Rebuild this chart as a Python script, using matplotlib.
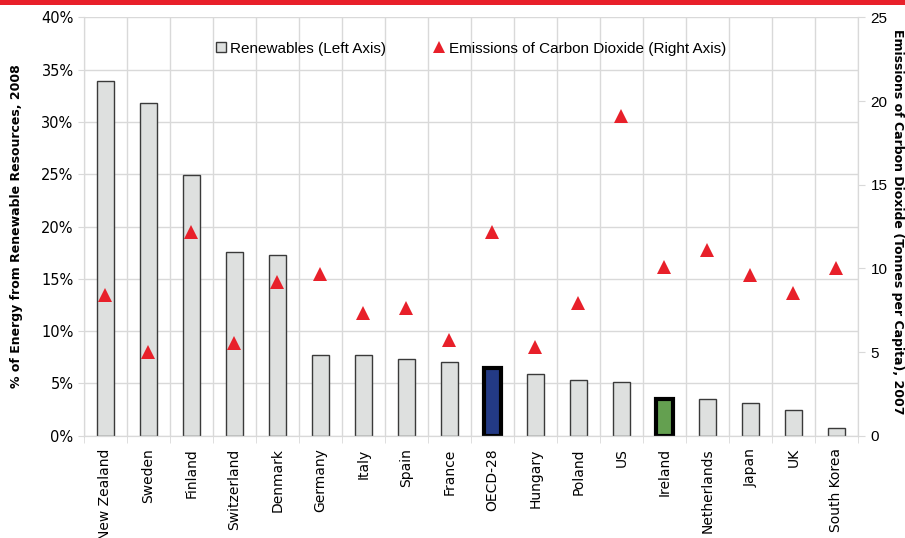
import matplotlib
matplotlib.use('Agg')
import matplotlib.pyplot as plt
from matplotlib.patches import Rectangle
from matplotlib.lines import Line2D
from matplotlib.ticker import FuncFormatter, MultipleLocator
import numpy as np

# Renewables share (%, 2008) and CO2 emissions (tonnes per capita, 2007)
countries = ['New Zealand', 'Sweden', 'Finland', 'Switzerland', 'Denmark', 'Germany',
             'Italy', 'Spain', 'France', 'OECD-28', 'Hungary', 'Poland', 'US',
             'Ireland', 'Netherlands', 'Japan', 'UK', 'South Korea']
renewables = [33.9, 31.8, 24.9, 17.6, 17.3, 7.7,
              7.7, 7.3, 7.05, 6.45, 5.9, 5.35, 5.1,
              3.55, 3.55, 3.1, 2.46, 0.7]
co2 = [8.4, 5.0, 12.15, 5.57, 9.2, 9.66,
       7.33, 7.64, 5.75, 12.2, 5.3, 7.94, 19.08,
       10.09, 11.08, 9.63, 8.55, 10.03]

GRID = '#d9d9d9'
BAR_FILL = '#dee0df'
RED = '#e8202a'
sans = ['Liberation Sans', 'DejaVu Sans']

fig = plt.figure(figsize=(9.05, 5.38), dpi=100)
ax = fig.add_axes([0.0928, 0.190, 0.8552, 0.7776])
ax2 = ax.twinx()

x = np.arange(len(countries))
fills = [BAR_FILL] * len(countries)
edges = ['#3a3a3a'] * len(countries)
widths = [1.0] * len(countries)
highlight = {'OECD-28': '#233a85', 'Ireland': '#64a050'}
for i, name in enumerate(countries):
    if name in highlight:
        fills[i] = highlight[name]
        edges[i] = 'black'
        widths[i] = 3.0

ax.bar(x, renewables, width=0.4, color=fills, edgecolor=edges, linewidth=widths, zorder=2)
ax2.plot(x, co2, linestyle='none', marker='^', markersize=9.5, color=RED,
         markeredgewidth=0, zorder=3)

# left axis
ax.set_xlim(-0.5, len(countries) - 0.5)
ax.set_ylim(0, 40)
ax.yaxis.set_major_locator(MultipleLocator(5))
ax.yaxis.set_major_formatter(FuncFormatter(lambda v, p: f'{int(v)}%'))
ax.set_axisbelow(True)
ax.grid(axis='y', color=GRID, linewidth=1)
ax.set_xticks(x)
ax.set_xticklabels(countries, rotation=90, fontsize=10)
ax.set_xticks(np.arange(-0.5, len(countries)), minor=True)
ax.grid(axis='x', which='minor', color=GRID, linewidth=1)
ax.tick_params(axis='x', which='major', length=0, pad=9)
ax.tick_params(axis='x', which='minor', length=5, color=GRID)
ax.tick_params(axis='y', length=4, color=GRID, labelsize=10.5)
ax.set_ylabel('% of Energy from Renewable Resources, 2008', fontsize=9,
              fontweight='bold', labelpad=13)

# right axis
ax2.set_ylim(0, 25)
ax2.yaxis.set_major_locator(MultipleLocator(5))
ax2.tick_params(axis='y', length=5, color=GRID, labelsize=11, pad=4)
for lab in ax2.get_yticklabels():
    lab.set_family(sans)
# right-hand title sits against the figure edge
fig.text(0.9915, 0.587, 'Emissions of Carbon Dioxide (Tonnes per Capita), 2007',
         fontsize=9, fontweight='bold', rotation=270, ha='center', va='center')

for a in (ax, ax2):
    a.spines['top'].set_visible(False)
    for s in ('left', 'right', 'bottom'):
        a.spines[s].set_color(GRID)

# legend
handles = [
    Line2D([], [], linestyle='none', marker='s', markersize=7.5, markerfacecolor=BAR_FILL,
           markeredgecolor='#3a3a3a', markeredgewidth=1),
    Line2D([], [], linestyle='none', marker='^', markersize=9, color=RED, markeredgewidth=0),
]
ax.legend(handles, ['Renewables (Left Axis)', 'Emissions of Carbon Dioxide (Right Axis)'],
          loc='upper center', bbox_to_anchor=(0.5, 0.975), ncol=2, frameon=False,
          handlelength=0.6, handletextpad=0.3, columnspacing=3.2,
          prop={'family': sans, 'size': 11})

# red band along the top
fig.add_artist(Rectangle((0, 0.99), 1, 0.01, transform=fig.transFigure,
                         color=RED, linewidth=0))

fig.savefig('out.png', dpi=100)
